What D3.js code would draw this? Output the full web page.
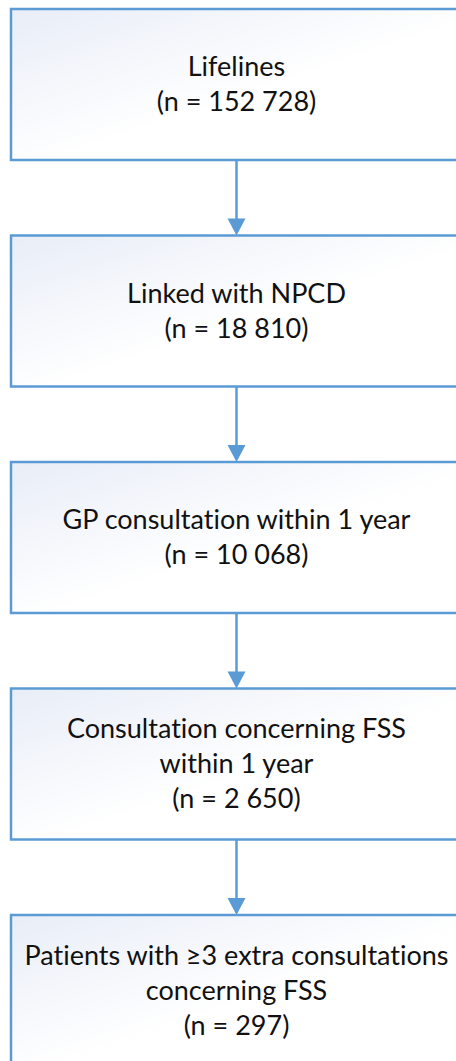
<!DOCTYPE html>
<html>
<head>
<meta charset="utf-8">
<script src="https://cdn.jsdelivr.net/npm/d3@7"></script>
<style>
  html, body { margin: 0; padding: 0; background: #fff; overflow: hidden; }
  text { font-variant-ligatures: none; }
</style>
</head>
<body>
<div id="chart"></div>
<script>
// flowchart steps, top to bottom
const stages = [
  ['Lifelines'],
  ['Linked with NPCD'],
  ['GP consultation within 1 year'],
  ['Consultation concerning FSS', 'within 1 year'],
  ['Patients with \u22653 extra consultations', 'concerning FSS']
]
const counts = [152728, 18810, 10068, 2650, 297]

const width = 456
const height = 1061
const box = { left: 11, width: 452, top: 9, bottom: 1066 }
const lineHeight = 35
const blue = '#5b9bd5'

const fmt = d3.formatLocale({ decimal: '.', thousands: ' ', grouping: [3], currency: ['', ''] }).format(',d')

const data = stages.map((lines, i) => ({
  i,
  lines: [...lines, `(n = ${fmt(counts[i])})`]
}))

const svg = d3.select('#chart')
  .append('svg')
  .attr('width', width)
  .attr('height', height)

const defs = svg.append('defs')
const grad = defs.append('linearGradient')
  .attr('id', 'boxfill')
  .attr('x1', '0%').attr('y1', '0%')
  .attr('x2', '100%').attr('y2', '100%')
grad.append('stop').attr('offset', '0%').attr('stop-color', '#e8edf7')
grad.append('stop').attr('offset', '55%').attr('stop-color', '#ffffff')
grad.append('stop').attr('offset', '100%').attr('stop-color', '#ffffff')

const yScale = d3.scaleBand()
  .domain(data.map(d => d.i))
  .range([box.top, box.bottom])
  .paddingInner(1 / 3)
  .paddingOuter(0)

const cx = box.left + box.width / 2 - 0.5

// arrows between boxes
const arrows = svg.append('g')
data.slice(0, -1).forEach(d => {
  const y0 = yScale(d.i) + yScale.bandwidth()
  const y1 = yScale(d.i + 1)
  arrows.append('line')
    .attr('x1', cx).attr('x2', cx)
    .attr('y1', y0).attr('y2', y1 - 15)
    .attr('stroke', blue)
    .attr('stroke-width', 2.5)
  arrows.append('path')
    .attr('d', `M${cx - 9},${y1 - 17} L${cx + 9},${y1 - 17} L${cx},${y1} Z`)
    .attr('fill', blue)
})

const nodes = svg.selectAll('.node')
  .data(data)
  .enter()
  .append('g')
  .attr('class', 'node')

nodes.append('rect')
  .attr('x', box.left)
  .attr('y', d => yScale(d.i))
  .attr('width', box.width)
  .attr('height', yScale.bandwidth())
  .attr('fill', 'url(#boxfill)')
  .attr('stroke', blue)
  .attr('stroke-width', 2.5)

nodes.append('text')
  .attr('text-anchor', 'middle')
  .attr('font-family', 'Lato, "Open Sans", sans-serif')
  .attr('font-size', 27)
  .attr('fill', '#111')
  .each(function (d) {
    const mid = yScale(d.i) + yScale.bandwidth() / 2
    const first = mid + 9 - (d.lines.length - 1) * lineHeight / 2
    d3.select(this).selectAll('tspan')
      .data(d.lines)
      .enter()
      .append('tspan')
      .attr('x', cx)
      .attr('y', (t, j) => first + j * lineHeight)
      .text(t => t)
  })
</script>
</body>
</html>
